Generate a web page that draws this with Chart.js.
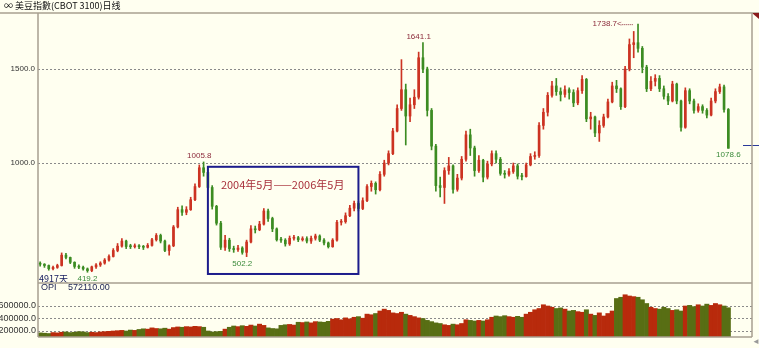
<!DOCTYPE html>
<html>
<head>
<meta charset="utf-8">
<script src="https://cdn.jsdelivr.net/npm/chart.js@4/dist/chart.umd.min.js"></script>
<style>
html,body{margin:0;padding:0;background:#fffff0;}
#wrap{position:relative;width:759px;height:348px;background:#fffff0;overflow:hidden;}
#wrap canvas{position:absolute;left:0;top:0;}
</style>
</head>
<body>
<div id="wrap">
<canvas id="c-px" width="759" height="348"></canvas>
<canvas id="c-opi" width="759" height="348"></canvas>
</div>
<script>
// 月度数据 2001/03 - 2014/07
const START=[2001,3];
const closes=[462,455,438,445,455,510,498,472,450,446,437,428,448,458,468,484,503,535,558,585,
556,555,560,555,552,562,592,615,585,535,560,660,752,738,752,805,875,975,950,870,
770,680,552,590,545,540,548,525,580,650,645,675,745,705,650,592,590,570,600,603,
592,598,585,600,612,590,575,555,590,685,688,720,760,785,758,800,875,892,858,940,
1000,1050,1170,1290,1390,1250,1310,1350,1560,1500,1280,1090,880,870,960,985,860,920,1020,1150,
1080,960,1015,925,995,1050,1020,945,940,955,985,930,928,990,1035,1040,1200,1270,1360,1410,
1380,1365,1390,1375,1320,1385,1445,1235,1245,1160,1200,1245,1325,1410,1395,1300,1500,1630,1640,1610,
1510,1395,1435,1450,1395,1355,1330,1420,1330,1190,1385,1330,1280,1300,1280,1255,1330,1380,1405,1285,
1078.6];
const highs=[475,465,458,452,462,522,520,500,475,458,452,442,452,465,475,492,512,545,572,598,
590,568,570,566,562,572,600,625,622,590,565,668,765,772,768,818,890,990,1005.8,965,
880,775,690,615,600,558,562,555,590,668,665,690,758,755,712,655,605,598,612,615,
610,608,608,612,622,618,598,580,598,695,700,735,775,798,795,815,885,905,900,955,
1015,1065,1185,1310,1550,1420,1345,1390,1590,1641.1,1510,1290,1100,925,975,1030,990,940,1035,1170,
1180,1090,1040,1020,1010,1065,1065,1030,960,970,1000,995,945,1000,1050,1060,1215,1290,1375,1435,
1450,1400,1410,1400,1390,1400,1465,1450,1270,1250,1225,1260,1340,1430,1440,1400,1515,1660,1700,1738.7,
1620,1520,1460,1470,1465,1410,1370,1435,1425,1335,1400,1395,1340,1315,1310,1290,1345,1395,1420,1415,
1290];
const lows=[452,445,430,432,440,452,490,465,440,438,430,419.2,422,440,450,462,478,500,528,552,
545,545,548,545,540,548,558,585,575,528,510,555,655,722,725,748,800,870,930,860,
755,670,540,535,530,525,530,515,502.2,575,628,640,670,690,635,585,578,558,562,590,
582,585,575,572,590,582,565,548,552,585,670,680,715,745,745,752,795,850,835,852,
930,990,1045,1165,1280,1096,1220,1290,1340,1480,1250,1070,850,820,785,940,840,850,910,1010,
1040,930,950,900,915,985,1000,935,920,930,945,915,910,925,985,1020,1030,1180,1250,1350,
1360,1330,1350,1340,1300,1310,1370,1220,1180,1140,1115,1190,1240,1320,1375,1285,1295,1490,1560,1590,
1480,1380,1385,1410,1380,1340,1310,1325,1315,1170,1185,1315,1265,1270,1265,1240,1250,1320,1370,1270,
1078.6];
const opi=[170000,165000,160000,175000,170000,180000,185000,175000,180000,190000,185000,175000,
180000,175000,185000,190000,195000,200000,205000,210000,200000,215000,210000,225000,
235000,230000,250000,240000,235000,245000,230000,255000,265000,260000,270000,265000,275000,270000,260000,
200000,185000,190000,195000,230000,260000,280000,270000,285000,275000,295000,280000,310000,
290000,250000,240000,235000,290000,300000,305000,295000,
340000,335000,345000,330000,350000,345000,340000,355000,
390000,400000,380000,410000,395000,420000,430000,405000,470000,460000,480000,
520000,550000,530000,490000,480000,500000,470000,450000,430000,410000,400000,
370000,350000,330000,320000,300000,290000,310000,300000,320000,
380000,370000,360000,370000,360000,380000,420000,440000,430000,445000,430000,420000,
435000,420000,470000,500000,540000,560000,620000,
600000,580000,560000,570000,550000,520000,530000,510000,500000,540000,470000,450000,490000,
440000,480000,520000,720000,740000,780000,760000,750000,740000,700000,
640000,580000,560000,550000,580000,560000,530000,540000,
520000,600000,610000,590000,620000,600000,630000,610000,640000,620000,600000,572110];
const TAIL=5; // 右侧空白月数
const xTicks=['2002/08','2004/08','2006/08','2008/08','2010/08','2012/08','2014/07'];
const pxTicks=[1000,1500];
const opiTicks=[200000,400000,600000];
const peakMarks=[{m:'2004/04',v:1005.8,t:'1005.8'},{m:'2008/07',v:1641.1,t:'1641.1'}];
const lowMarks=[{m:'2002/02',v:419.2,t:'419.2'},{m:'2005/02',v:502.2,t:'502.2'},{m:'2014/07',v:1078.6,t:'1078.6'}];
const topMark={m:'2012/09',v:1738.7,t:'1738.7<'};
const box={from:'2004/06',to:'2007/05',top:980,bottom:410,t:'2004年5月——2006年5月'};

const labels=[];
for(let i=0;i<closes.length+TAIL;i++){
  const k=START[1]-1+i, y=START[0]+Math.floor(k/12), m=k%12+1;
  labels.push(i<closes.length?`${y}/${String(m).padStart(2,'0')}`:'');
}
const opens=closes.map((c,i)=>i?closes[i-1]:466);
const UP='#cc3322', DN='#3c8c22';
const dir=closes.map((c,i)=>c>=opens[i]);
const col=dir.map(u=>u?UP:DN);

const FONT="'Liberation Sans', Arial, sans-serif";
const fixW=s=>{s.width=38;};
const idx=m=>labels.indexOf(m);

const frame={
  id:'frame',
  afterDraw(ch){
    const {ctx,chartArea:a,scales}=ch;
    ctx.save();
    if(ch.canvas.id==='c-px'){
      const x=scales.x, y=scales.y;
      // 标题
      ctx.fillStyle='#111'; ctx.font="9px 'Noto Sans CJK SC'"; ctx.textBaseline='middle';
      ctx.fillText('∞ 美豆指數(CBOT 3100)日线',4,6);
      ctx.strokeStyle='#a8a090'; ctx.lineWidth=1.5;
      ctx.beginPath(); ctx.moveTo(0,a.top); ctx.lineTo(759,a.top); ctx.stroke();
      ctx.fillStyle='#8a1a1a';
      ctx.beginPath(); ctx.moveTo(752,a.top); ctx.lineTo(759,a.top); ctx.lineTo(759,a.top+6); ctx.fill();
      // 标注
      ctx.font=`8px ${FONT}`; ctx.textAlign='center';
      ctx.fillStyle='#8b2a3a'; ctx.textBaseline='bottom';
      peakMarks.forEach(p=>ctx.fillText(p.t,x.getPixelForValue(idx(p.m)),y.getPixelForValue(p.v)-2));
      ctx.fillStyle='#3a8a3a'; ctx.textBaseline='top';
      lowMarks.forEach(p=>ctx.fillText(p.t,x.getPixelForValue(idx(p.m)),y.getPixelForValue(p.v)+3));
      const tx=x.getPixelForValue(idx(topMark.m)), ty=y.getPixelForValue(topMark.v);
      ctx.fillStyle='#8b2a3a'; ctx.textAlign='right'; ctx.textBaseline='middle';
      ctx.fillText(topMark.t,tx-12,ty);
      ctx.strokeStyle='#8b2a3a'; ctx.lineWidth=1; ctx.setLineDash([1,1]);
      ctx.beginPath(); ctx.moveTo(tx-12,ty+0.5); ctx.lineTo(tx-1,ty+0.5); ctx.stroke(); ctx.setLineDash([]);
      ctx.fillStyle='#1a2060'; ctx.textAlign='left'; ctx.textBaseline='bottom'; ctx.font=`9px 'Noto Sans CJK SC'`;
      ctx.fillText('4917天',a.left+1,a.bottom);
      // 当前价位线
      const ly=Math.round(y.getPixelForValue(closes[closes.length-1]))-2.5;
      ctx.strokeStyle='#2a3a9a'; ctx.beginPath(); ctx.moveTo(a.right-9,ly); ctx.lineTo(759,ly); ctx.stroke();
      // 方框
      const bl=x.getPixelForValue(idx(box.from)), br=x.getPixelForValue(idx(box.to));
      const bt=y.getPixelForValue(box.top), bb=y.getPixelForValue(box.bottom);
      ctx.strokeStyle='#1c1c8c'; ctx.lineWidth=2; ctx.strokeRect(bl,bt,br-bl,bb-bt);
      ctx.fillStyle='#a8303a'; ctx.font="11px 'Noto Sans CJK SC'"; ctx.textBaseline='middle';
      ctx.fillText(box.t,bl+13,bt+18);
    }else{
      ctx.strokeStyle='#a8a090'; ctx.lineWidth=1.5;
      ctx.beginPath();
      ctx.moveTo(a.left,a.top); ctx.lineTo(a.right,a.top);
      ctx.moveTo(a.left,a.bottom); ctx.lineTo(a.right,a.bottom);
      ctx.moveTo(a.left,13); ctx.lineTo(a.left,a.bottom);
      ctx.moveTo(a.right,13); ctx.lineTo(a.right,a.bottom);
      ctx.stroke();
      ctx.fillStyle='#1a2050'; ctx.font=`9px ${FONT}`; ctx.textBaseline='middle';
      ctx.fillText('OPI',a.left+3,a.top+5);
      ctx.fillText(opi[opi.length-1].toFixed(2),a.left+30,a.top+5);
      ctx.fillStyle='#999'; ctx.font=`8px ${FONT}`; ctx.fillText('◄',752,a.bottom+5);
    }
    ctx.restore();
  }
};

new Chart(document.getElementById('c-px'),{
  type:'bar',
  data:{labels,datasets:[
    {data:lows.map((l,i)=>[l,highs[i]]),backgroundColor:col,barThickness:1,grouped:false,order:2},
    {data:closes.map((c,i)=>[opens[i],c]),backgroundColor:col,barThickness:2,minBarLength:1,grouped:false,order:1}
  ]},
  options:{
    responsive:false,animation:false,devicePixelRatio:1,
    layout:{padding:{top:13,bottom:65,left:0,right:7}},
    plugins:{legend:{display:false},tooltip:{enabled:false}},
    scales:{
      x:{display:false,offset:true},
      y:{min:362,max:1798,afterFit:fixW,
        afterBuildTicks:s=>{s.ticks=pxTicks.map(v=>({value:v}));},
        ticks:{callback:v=>v.toFixed(1),color:'#333',font:{family:FONT,size:8},padding:3},
        grid:{color:'#8a8a8a',drawTicks:false},border:{display:false,dash:[2,2]}}
    }
  },
  plugins:[frame]
});

new Chart(document.getElementById('c-opi'),{
  type:'bar',
  data:{labels,datasets:[
    {data:opi,backgroundColor:dir.map(u=>u?'#b82a0c':'#586e14'),barPercentage:1,categoryPercentage:1}
  ]},
  options:{
    responsive:false,animation:false,devicePixelRatio:1,
    layout:{padding:{top:283,bottom:0,left:0,right:7}},
    plugins:{legend:{display:false},tooltip:{enabled:false}},
    scales:{
      x:{offset:true,afterFit:s=>{s.height=11;},
        grid:{display:false},border:{display:false},
        ticks:{autoSkip:false,maxRotation:0,padding:1,color:'#777',font:{family:FONT,size:8,weight:'bold'},
          callback:(v,i)=>xTicks.includes(labels[i])?labels[i]:''}},
      y:{min:104000,max:968000,afterFit:fixW,
        afterBuildTicks:s=>{s.ticks=opiTicks.map(v=>({value:v}));},
        ticks:{callback:v=>v.toFixed(1),color:'#333',font:{family:FONT,size:9},padding:2},
        grid:{color:'#8a8a8a',drawTicks:false},border:{display:false,dash:[2,2]}}
    }
  },
  plugins:[frame]
});
</script>
</body>
</html>
